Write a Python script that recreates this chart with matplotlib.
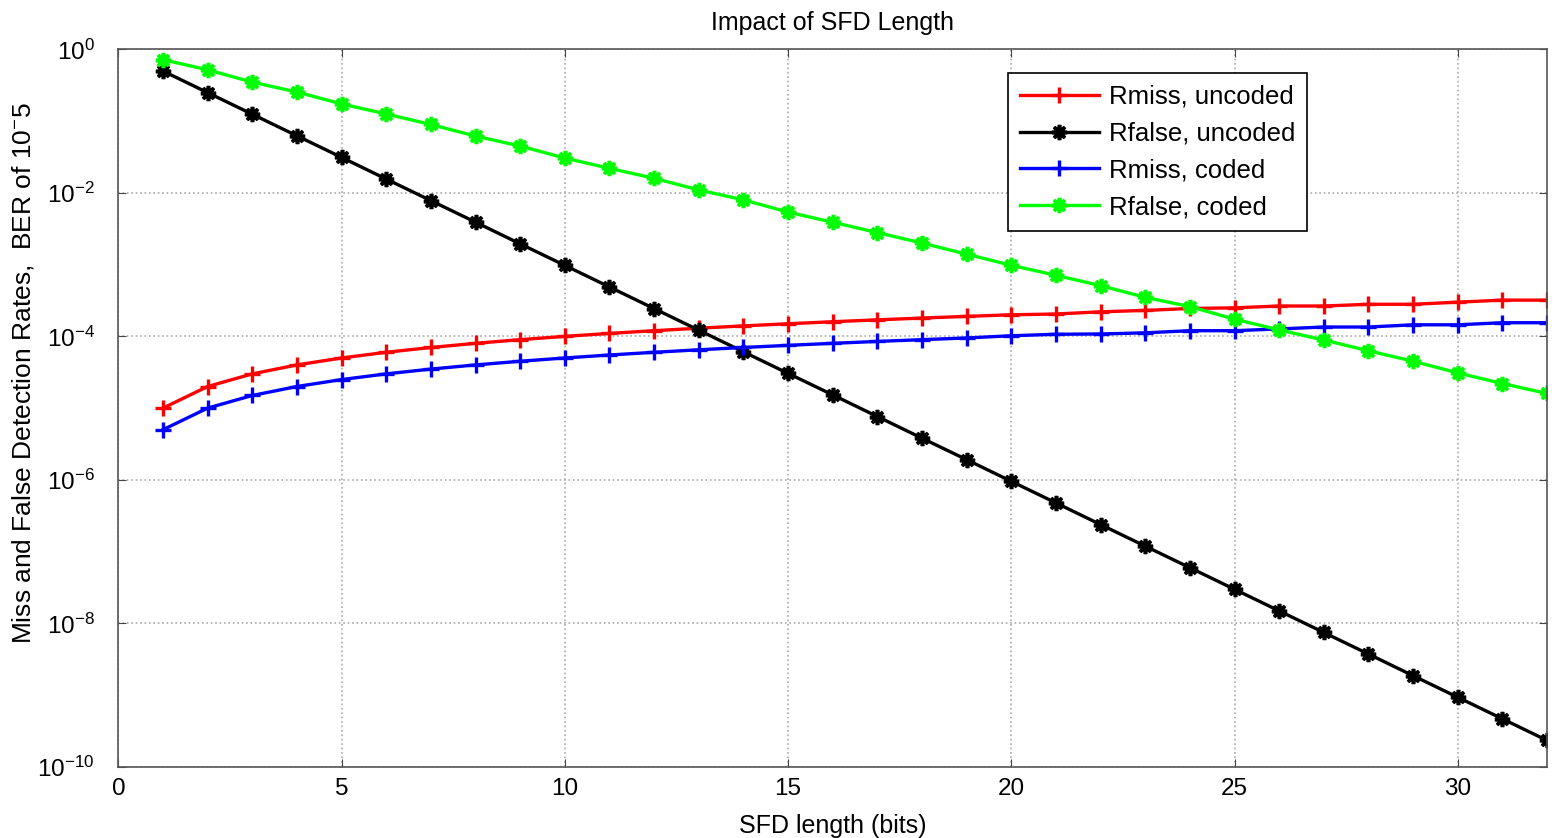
import matplotlib
matplotlib.use("Agg")
import matplotlib.pyplot as plt
from matplotlib.ticker import NullLocator

plt.rcParams["font.family"] = ["Liberation Sans", "DejaVu Sans"]
plt.rcParams["mathtext.default"] = "regular"

# SFD length in bits
sfd_bits = list(range(1, 33))

# values
rmiss_uncoded = [1.0e-5, 2.0e-5, 3.0e-5, 4.0e-5, 5.0e-5, 6.0e-5, 7.0e-5, 8.0e-5,
                 9.0e-5, 1.0e-4, 1.1e-4, 1.2e-4, 1.3e-4, 1.4e-4, 1.5e-4, 1.6e-4,
                 1.7e-4, 1.8e-4, 1.9e-4, 2.0e-4, 2.05e-4, 2.2e-4, 2.3e-4, 2.45e-4,
                 2.5e-4, 2.65e-4, 2.65e-4, 2.8e-4, 2.8e-4, 3.0e-4, 3.2e-4, 3.2e-4]
rfalse_uncoded = [5.0e-1, 2.5e-1, 1.25e-1, 6.25e-2, 3.13e-2, 1.56e-2, 7.81e-3, 3.91e-3,
                  1.95e-3, 9.77e-4, 4.88e-4, 2.44e-4, 1.22e-4, 6.10e-5, 3.05e-5, 1.53e-5,
                  7.63e-6, 3.81e-6, 1.91e-6, 9.54e-7, 4.77e-7, 2.38e-7, 1.19e-7, 5.96e-8,
                  2.98e-8, 1.49e-8, 7.45e-9, 3.73e-9, 1.86e-9, 9.31e-10, 4.66e-10, 2.33e-10]
rmiss_coded = [5.0e-6, 1.0e-5, 1.5e-5, 2.0e-5, 2.5e-5, 3.0e-5, 3.5e-5, 4.0e-5,
               4.5e-5, 5.0e-5, 5.5e-5, 6.0e-5, 6.5e-5, 7.0e-5, 7.5e-5, 8.0e-5,
               8.5e-5, 9.0e-5, 9.5e-5, 1.02e-4, 1.07e-4, 1.08e-4, 1.12e-4, 1.2e-4,
               1.2e-4, 1.27e-4, 1.35e-4, 1.35e-4, 1.45e-4, 1.45e-4, 1.55e-4, 1.55e-4]
rfalse_coded = [7.2e-1, 5.2e-1, 3.5e-1, 2.55e-1, 1.74e-1, 1.26e-1, 9.0e-2, 6.2e-2,
                4.5e-2, 3.06e-2, 2.2e-2, 1.6e-2, 1.1e-2, 8.0e-3, 5.4e-3, 3.9e-3,
                2.8e-3, 2.0e-3, 1.4e-3, 9.8e-4, 7.1e-4, 5.1e-4, 3.5e-4, 2.6e-4,
                1.74e-4, 1.23e-4, 8.9e-5, 6.3e-5, 4.5e-5, 3.1e-5, 2.2e-5, 1.6e-5]

# matlab-like asterisk marker
ast = (8, 2, 0)

fig = plt.figure(figsize=(15.57, 8.38), dpi=100)
ax = fig.add_axes([0.076, 0.085, 0.9176, 0.856])

ax.semilogy(sfd_bits, rmiss_uncoded, color="#ff0000", lw=2.4, marker="+",
            ms=11, mew=2.4, label="Rmiss, uncoded")
ax.semilogy(sfd_bits, rfalse_uncoded, color="#000000", lw=2.4, marker=ast,
            ms=11, mew=2.6, label="Rfalse, uncoded")
ax.semilogy(sfd_bits, rmiss_coded, color="#0000ff", lw=2.4, marker="+",
            ms=11, mew=2.4, label="Rmiss, coded")
ax.semilogy(sfd_bits, rfalse_coded, color="#00ff00", lw=2.4, marker=ast,
            ms=11, mew=2.6, label="Rfalse, coded")

ax.set_xlim(0, 32)
ax.set_ylim(1e-10, 1e0)
ax.set_xticks([0, 5, 10, 15, 20, 25, 30])
ax.set_yticks([1e-10, 1e-8, 1e-6, 1e-4, 1e-2, 1e0])
ax.yaxis.set_minor_locator(NullLocator())
ax.grid(True, color="#aaaaaa", linestyle=":", linewidth=1.2)
ax.tick_params(direction="in", length=6, top=True, right=True, labelsize=17.5,
               color="#444444")
ax.tick_params(axis="x", pad=8)
ax.tick_params(axis="y", pad=17)
for sp in ax.spines.values():
    sp.set_color("#555555")
    sp.set_linewidth(1.2)

ax.set_title("Impact of SFD Length", fontsize=18, pad=14)
ax.set_xlabel("SFD length (bits)", fontsize=18, labelpad=10)
ax.set_ylabel("Miss and False Detection Rates,  BER of 10$^{-}$5", fontsize=19)
ax.yaxis.set_label_coords(-0.0574, 0.549)

leg = ax.legend(loc="upper right", bbox_to_anchor=(0.832, 0.967), borderaxespad=0,
                fontsize=18.5, fancybox=False, framealpha=1, edgecolor="#000000",
                handlelength=3.07, handletextpad=0.4, labelspacing=0.5,
                borderpad=0.45)
leg.get_frame().set_linewidth(1.2)

fig.savefig("out.png", dpi=100)
